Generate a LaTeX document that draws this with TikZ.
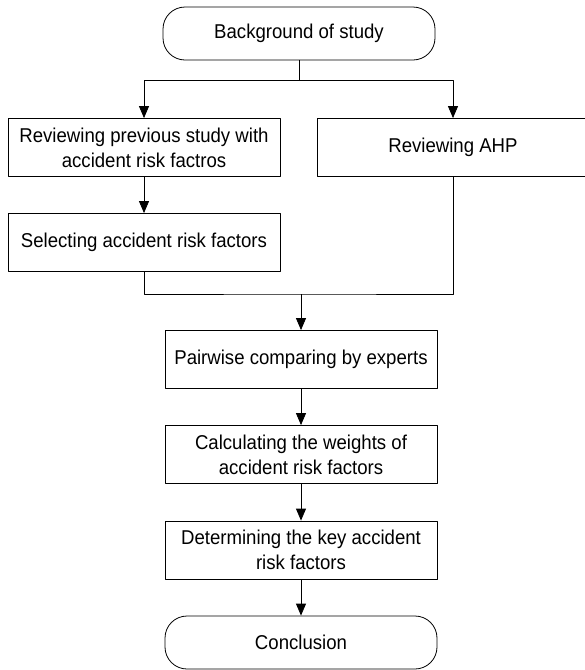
\documentclass[tikz,border=0pt]{standalone}
\usepackage{fontspec}
\setmainfont[FakeStretch=0.93]{Liberation Sans}
\usetikzlibrary{arrows.meta}
\begin{document}
\begin{tikzpicture}[x=1pt, y=-1pt, line width=0.8pt, line join=round, >={Triangle[length=12pt,width=10pt]},
    font=\fontsize{20}{25}\selectfont,
    box/.style={draw, rectangle, align=center, inner sep=0pt, minimum width=272pt, minimum height=58pt},
    term/.style={box, rounded corners=22pt, minimum height=53pt}]
    \def\xl{144} \def\xr{453} \def\xm{301} % cột trái, phải, giữa
    \useasboundingbox (0,0) rectangle (585,670);
    \node[term] (bg) at (299,33.5) {Background of study};
    \node[box] (rev) at (\xl,147.5) {Reviewing previous study with\\accident risk factros};
    \node[box] (ahp) at (\xr,147.5) {Reviewing AHP};
    \node[box] (sel) at (\xl,242.5) {Selecting accident risk factors};
    \node[box] (pair) at (\xm,359.5) {Pairwise comparing by experts};
    \node[box] (calc) at (\xm,454.5) {Calculating the weights of\\accident risk factors};
    \node[box] (det) at (\xm,550) {Determining the key accident\\risk factors};
    \node[term] (conc) at (\xm,642.5) {Conclusion};
    \coordinate (split) at (299,80);
    \coordinate (merge) at (\xm,294);
    \draw (bg) -- (split);
    \draw[->] (split) -| (rev.north);
    \draw[->] (split) -| (ahp.north);
    \draw[->] (rev) -- (sel);
    \draw (sel.south) |- (merge) -| (ahp.south);
    \draw[->] (merge) -- (pair);
    \draw[->] (pair) -- (calc);
    \draw[->] (calc) -- (det);
    \draw[->] (det) -- (conc);
\end{tikzpicture}
\end{document}
